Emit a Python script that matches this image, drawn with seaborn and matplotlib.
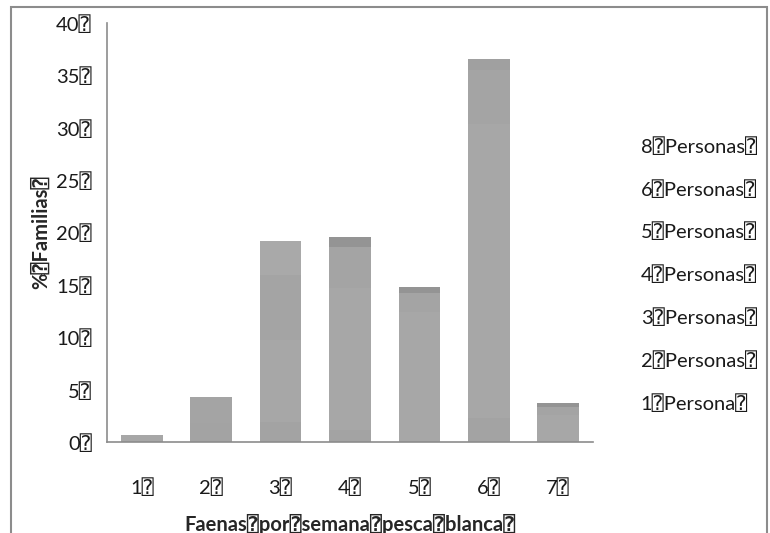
import seaborn as sns
import pandas as pd
import matplotlib.pyplot as plt
from matplotlib.patches import Rectangle, Patch

# Data (percent of families per weekly fishing trips)
faenas = [1, 2, 3, 4, 5, 6, 7]
series = ["8⍰Personas⍰", "6⍰Personas⍰", "5⍰Personas⍰", "4⍰Personas⍰",
          "3⍰Personas⍰", "2⍰Personas⍰", "1⍰Persona⍰"]
p8 = [0, 0, 0, 0, 0, 1.1, 0]
p6 = [0, 0, 0, 1.0, 0.6, 0, 0.35]
p5 = [0, 0, 3.3, 0, 0, 0, 0]
p4 = [0, 2.5, 6.2, 3.9, 1.8, 5.1, 0.75]
p3 = [0.7, 0, 7.8, 13.6, 12.4, 28.1, 2.6]
p2 = [0, 1.8, 1.9, 1.1, 0, 2.3, 0]
p1 = [0, 0, 0, 0, 0, 0, 0]
yticks = [0, 5, 10, 15, 20, 25, 30, 35, 40]

rows = []
for name, vals in zip(series, [p8, p6, p5, p4, p3, p2, p1]):
    for f, v in zip(faenas, vals):
        rows.append({"faenas": f, "serie": name, "pct": v})
df = pd.DataFrame(rows)

colors = {
    "8⍰Personas⍰": "#a0a0a0",
    "6⍰Personas⍰": "#949494",
    "5⍰Personas⍰": "#a9a9a9",
    "4⍰Personas⍰": "#a4a4a4",
    "3⍰Personas⍰": "#a7a7a7",
    "2⍰Personas⍰": "#a3a3a3",
    "1⍰Persona⍰": "#a5a5a5",
}

sns.set_style("white")
plt.rcParams["font.family"] = ["Lato", "DejaVu Sans", "DejaVu Sans Mono"]
plt.rcParams["text.color"] = "#1a1a1a"

fig = plt.figure(figsize=(7.7, 5.33), dpi=100)
ax = fig.add_axes([0.139, 0.1707, 0.631, 0.786])

sns.histplot(data=df, x="faenas", weights="pct", hue="serie", hue_order=series,
             multiple="stack", discrete=True, shrink=0.6, palette=colors,
             alpha=1, linewidth=0, legend=False, ax=ax)

ax.set_xlim(0.5, 7.5)
ax.set_ylim(0, 40)
ax.set_yticks(yticks)
ax.set_yticklabels([f"{t}⍰" for t in yticks], fontsize=14.5, color="#1a1a1a")
ax.set_xticks(faenas)
ax.set_xticklabels([f"{f}⍰" for f in faenas], fontsize=14.5, color="#1a1a1a")
ax.tick_params(axis="x", length=0, pad=26)
ax.tick_params(axis="y", length=7, width=1, color="#8c8c8c", pad=4, direction="out")

sns.despine(ax=ax)
for s in ["left", "bottom"]:
    ax.spines[s].set_color("#8c8c8c")
    ax.spines[s].set_linewidth(1.2)

ax.set_xlabel("Faenas⍰por⍰semana⍰pesca⍰blanca⍰", fontsize=14.5, fontweight="bold", labelpad=12)
ax.set_ylabel("%⍰Familias⍰", fontsize=14.5, fontweight="bold", labelpad=4)

handles = [Patch(facecolor="none", edgecolor="none") for _ in series]
fig.legend(handles, series, loc="center left", bbox_to_anchor=(0.832, 0.484),
           frameon=False, fontsize=14.5, handlelength=0, handletextpad=0,
           labelspacing=1.2, borderpad=0, borderaxespad=0)

# outer chart frame
fig.add_artist(Rectangle((11 / 770, -0.1), 756 / 770, 1.1 - 7 / 533,
                         transform=fig.transFigure, fill=False,
                         edgecolor="#8c8c8c", linewidth=1.5))

fig.savefig("out.png", dpi=100)
